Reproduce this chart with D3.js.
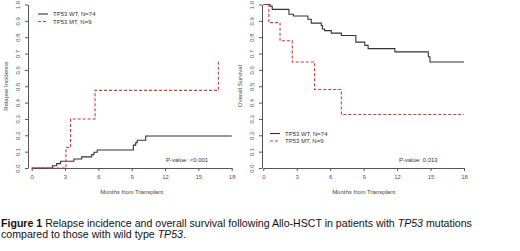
<!DOCTYPE html>
<html>
<head>
<meta charset="utf-8">
<script src="https://cdn.jsdelivr.net/npm/d3@7"></script>
<style>
  body { margin: 0; background: #fff; }
  svg text { font-family: "Liberation Sans", Arial, sans-serif; }
</style>
</head>
<body>
<script>
// months from transplant (step times) and curve values
const relapseWtTime = [0, 1.86, 2.25, 2.6, 3.8, 4.5, 5.4, 5.6, 5.9, 9.15, 9.36, 9.5, 10.26, 18];
const relapseWtVal  = [0, 0.014, 0.027, 0.041, 0.055, 0.068, 0.082, 0.096, 0.11, 0.14, 0.155, 0.17, 0.196, 0.196];
const relapseMtTime = [0, 3.08, 3.5, 5.7, 16.8];
const relapseMtVal  = [0, 0.125, 0.30, 0.475, 0.65];

const osWtTime = [0, 0.6, 0.8, 2.3, 2.7, 4.0, 4.3, 5.2, 5.3, 5.5, 6.1, 7.0, 8.3, 9.1, 9.4, 11.8, 14.8, 14.95, 18];
const osWtVal  = [1, 0.99, 0.97, 0.94, 0.93, 0.91, 0.886, 0.872, 0.85, 0.84, 0.825, 0.81, 0.77, 0.75, 0.73, 0.71, 0.68, 0.648, 0.648];
const osMtTime = [0, 0.5, 1.5, 2.6, 4.6, 7.0, 18];
const osMtVal  = [1, 0.889, 0.778, 0.648, 0.48, 0.327, 0.327];

const xTicks = [0, 3, 6, 9, 12, 15, 18];
const yTicks = [0, 0.1, 0.2, 0.3, 0.4, 0.5, 0.6, 0.7, 0.8, 0.9, 1.0];
const legendLabels = ["TP53 WT, N=74", "TP53 MT, N=9"];

const W = 520, H = 251;
const wtColor = "#333", mtColor = "#d03a3a", axisColor = "#555";

const svg = d3.select("body").append("svg")
  .attr("width", W).attr("height", H);

function toPoints(t, v){ return t.map((d, i) => ({x: d, y: v[i]})); }

function panel(opts){
  const g = svg.append("g");
  const x = d3.scaleLinear().domain([0, 18]).range([opts.x0, opts.x1]);
  const y = d3.scaleLinear().domain([0, 1]).range([168, 4.5]);

  // x axis
  const gx = g.append("g")
    .attr("transform", "translate(0,168)")
    .call(d3.axisBottom(x).tickValues(xTicks).tickSize(3).tickSizeOuter(0).tickPadding(4));
  gx.select(".domain").attr("stroke", axisColor);
  gx.selectAll(".tick line").attr("stroke", axisColor);
  gx.selectAll(".tick text").attr("fill", axisColor).style("font-size", "6px");

  // y axis
  const gy = g.append("g")
    .attr("transform", `translate(${opts.yAxisX},0)`)
    .call(d3.axisLeft(y).tickValues(yTicks).tickFormat(d3.format(".1f")).tickSize(3).tickSizeOuter(0));
  gy.select(".domain").attr("stroke", axisColor);
  gy.selectAll(".tick line").attr("stroke", axisColor);
  gy.selectAll(".tick text")
    .attr("fill", axisColor).style("font-size", "6px")
    .attr("x", null).attr("dy", null)
    .attr("text-anchor", "middle")
    .attr("transform", "translate(-8,0) rotate(-90)");

  g.append("text")
    .attr("x", (opts.x0 + opts.x1) / 2).attr("y", 194)
    .attr("text-anchor", "middle").attr("fill", "#444")
    .style("font-size", "6px")
    .text("Months from Transplant");

  g.append("text")
    .attr("transform", `translate(${opts.yAxisX - 20},86) rotate(-90)`)
    .attr("text-anchor", "middle").attr("fill", "#444")
    .style("font-size", "6px")
    .text(opts.yTitle);

  const line = d3.line().x(d => x(d.x)).y(d => y(d.y)).curve(d3.curveStepAfter);

  g.append("path").datum(toPoints(opts.wt[0], opts.wt[1]))
    .attr("fill", "none").attr("stroke", wtColor).attr("stroke-width", 1.1)
    .attr("d", line);
  g.append("path").datum(toPoints(opts.mt[0], opts.mt[1]))
    .attr("fill", "none").attr("stroke", mtColor).attr("stroke-width", 1.1)
    .attr("stroke-dasharray", "3,2")
    .attr("d", line);

  // legend
  const lg = g.append("g").attr("transform", `translate(${opts.legX},${opts.legY})`);
  legendLabels.forEach((lab, i) => {
    lg.append("line")
      .attr("x1", 0).attr("x2", 10).attr("y1", i * 7.5).attr("y2", i * 7.5)
      .attr("stroke", i === 0 ? wtColor : mtColor).attr("stroke-width", 1.1)
      .attr("stroke-dasharray", i === 0 ? null : "3,2");
    lg.append("text")
      .attr("x", 15).attr("y", i * 7.5).attr("dy", "0.35em")
      .attr("fill", "#333").style("font-size", "6px")
      .text(lab);
  });

  g.append("text")
    .attr("x", opts.pX).attr("y", 160).attr("dy", "0.35em")
    .attr("fill", "#333").style("font-size", "6px")
    .text(opts.pText);
}

panel({
  x0: 31.7, x1: 231.7, yAxisX: 28, yTitle: "Relapse Incidence",
  wt: [relapseWtTime, relapseWtVal], mt: [relapseMtTime, relapseMtVal],
  legX: 38, legY: 14, pX: 166, pText: "P-value: <0.001"
});

panel({
  x0: 263.3, x1: 464, yAxisX: 262, yTitle: "Overall Survival",
  wt: [osWtTime, osWtVal], mt: [osMtTime, osMtVal],
  legX: 270, legY: 133.5, pX: 399, pText: "P-value:  0.013"
});

// caption
const cap = svg.append("text").attr("x", 1).attr("y", 227)
  .attr("fill", "#111").style("font-size", "10.6px");
cap.append("tspan").attr("font-weight", "bold").text("Figure 1");
cap.append("tspan").text(" Relapse incidence and overall survival following Allo-HSCT in patients with ");
cap.append("tspan").attr("font-style", "italic").text("TP53");
cap.append("tspan").text(" mutations");

const cap2 = svg.append("text").attr("x", 1).attr("y", 238)
  .attr("fill", "#111").style("font-size", "10.6px");
cap2.append("tspan").text("compared to those with wild type ");
cap2.append("tspan").attr("font-style", "italic").text("TP53");
cap2.append("tspan").text(".");
</script>
</body>
</html>
